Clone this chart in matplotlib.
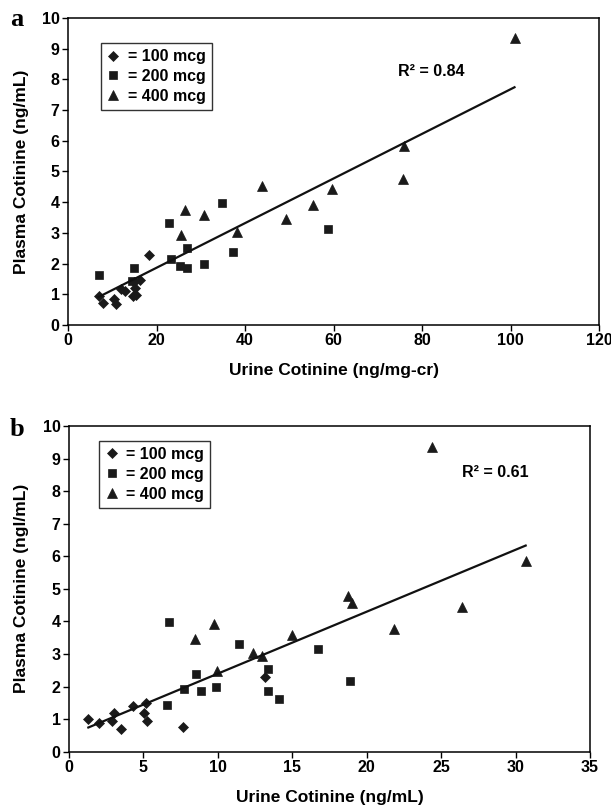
import numpy as np
import matplotlib
matplotlib.use("Agg")
import matplotlib.pyplot as plt

plt.rcParams['font.family'] = ['Liberation Sans', 'DejaVu Sans']
plt.rcParams['font.weight'] = 'bold'

# panel a: urine cotinine (ng/mg-cr) vs plasma cotinine (ng/mL)
a_100_x = [6.9, 7.8, 10.4, 10.9, 12.0, 12.9, 14.6, 15.4, 15.2, 15.0, 16.3, 18.4]
a_100_y = [0.95, 0.73, 0.85, 0.67, 1.17, 1.10, 0.95, 0.98, 1.19, 1.40, 1.47, 2.28]
a_200_x = [6.9, 14.9, 14.4, 22.9, 23.2, 25.2, 26.8, 27.0, 30.8, 34.9, 37.2, 58.8]
a_200_y = [1.62, 1.87, 1.43, 3.31, 2.15, 1.93, 1.85, 2.52, 1.98, 3.98, 2.37, 3.13]
a_400_x = [25.5, 26.5, 30.8, 38.3, 43.9, 49.3, 55.4, 59.7, 75.6, 76.0, 100.9]
a_400_y = [2.93, 3.75, 3.58, 3.02, 4.54, 3.44, 3.91, 4.43, 4.75, 5.84, 9.36]

# panel b: urine cotinine (ng/mL) vs plasma cotinine
b_100_x = [1.30, 2.04, 2.91, 3.05, 3.49, 4.28, 5.17, 5.06, 5.22, 7.68, 13.17]
b_100_y = [0.99, 0.87, 0.95, 1.20, 0.69, 1.41, 1.49, 1.18, 0.95, 0.75, 2.30]
b_200_x = [6.58, 6.74, 7.75, 8.51, 8.87, 9.87, 11.44, 13.39, 13.39, 14.08, 16.70, 18.88]
b_200_y = [1.43, 3.99, 1.94, 2.39, 1.86, 2.00, 3.31, 2.54, 1.87, 1.63, 3.14, 2.17]
b_400_x = [8.46, 9.74, 9.96, 12.34, 12.99, 15.00, 18.77, 18.99, 21.83, 26.38, 30.68, 24.36]
b_400_y = [3.45, 3.92, 2.49, 3.04, 2.94, 3.58, 4.78, 4.56, 3.76, 4.45, 5.87, 9.37]

dose_labels = ['= 100 mcg', '= 200 mcg', '= 400 mcg']
r2_a = 0.84
r2_b = 0.61

fig = plt.figure(figsize=(6.11, 8.09), dpi=100)
ax1 = fig.add_axes([0.1113, 0.5983, 0.8691, 0.3795])
ax2 = fig.add_axes([0.1129, 0.0708, 0.8527, 0.4026])


def panel(ax, groups, xmax, xstep, xlabel, ylabel, r2, r2pos, legpos,
          letter, letterpos, ylab_x, xlab_y):
    marks = [('D', 5.0), ('s', 5.6), ('^', 6.8)]
    allx, ally = [], []
    for (gx, gy), (m, ms), lab in zip(groups, marks, dose_labels):
        ax.plot(gx, gy, linestyle='none', marker=m, markersize=ms,
                markeredgewidth=0.5, color='#1a1a1a', label=lab)
        allx += gx
        ally += gy
    k, b = np.polyfit(allx, ally, 1)
    xs = np.array([min(allx), max(allx)])
    ax.plot(xs, k * xs + b, color='#111111', lw=1.6)

    ax.set_xlim(0, xmax)
    ax.set_ylim(0, 10)
    ax.set_xticks(np.arange(0, xmax + 0.1, xstep))
    ax.set_yticks(range(0, 11))
    ax.tick_params(direction='out', length=4, width=1, labelsize=11.5, pad=2)
    for s in ax.spines.values():
        s.set_linewidth(1.1)
    ax.set_xlabel(xlabel, fontsize=12.5, fontweight='bold')
    ax.set_ylabel(ylabel, fontsize=12.5, fontweight='bold')
    ax.xaxis.set_label_coords(0.5, xlab_y)
    ax.yaxis.set_label_coords(ylab_x, 0.5)
    ax.text(r2pos[0], r2pos[1], 'R\u00b2 = %.2f' % r2, fontsize=11.5,
            fontweight='bold', va='center')
    leg = ax.legend(loc='upper left', bbox_to_anchor=legpos, borderaxespad=0,
                    frameon=True, fancybox=False, edgecolor='black',
                    handlelength=0.8, handletextpad=0.5, labelspacing=0.3,
                    borderpad=0.38, prop={'weight': 'bold', 'size': 11.5})
    leg.get_frame().set_linewidth(1.0)
    fig.text(letterpos[0], letterpos[1], letter, fontsize=19,
             fontweight='bold', family='Liberation Serif', va='center')


panel(ax1, [(a_100_x, a_100_y), (a_200_x, a_200_y), (a_400_x, a_400_y)],
      120, 20, 'Urine Cotinine (ng/mg-cr)', 'Plasma Cotinine (ng/mL)',
      r2_a, (74.6, 8.24), (0.062, 0.918), 'a', (0.016, 0.976),
      -0.073, -0.124)
panel(ax2, [(b_100_x, b_100_y), (b_200_x, b_200_y), (b_400_x, b_400_y)],
      35, 5, 'Urine Cotinine (ng/mL)', 'Plasma Cotinine (ngl/mL)',
      r2_b, (26.4, 8.57), (0.058, 0.954), 'b', (0.016, 0.469),
      -0.077, -0.118)

fig.savefig('out.png', dpi=100)
